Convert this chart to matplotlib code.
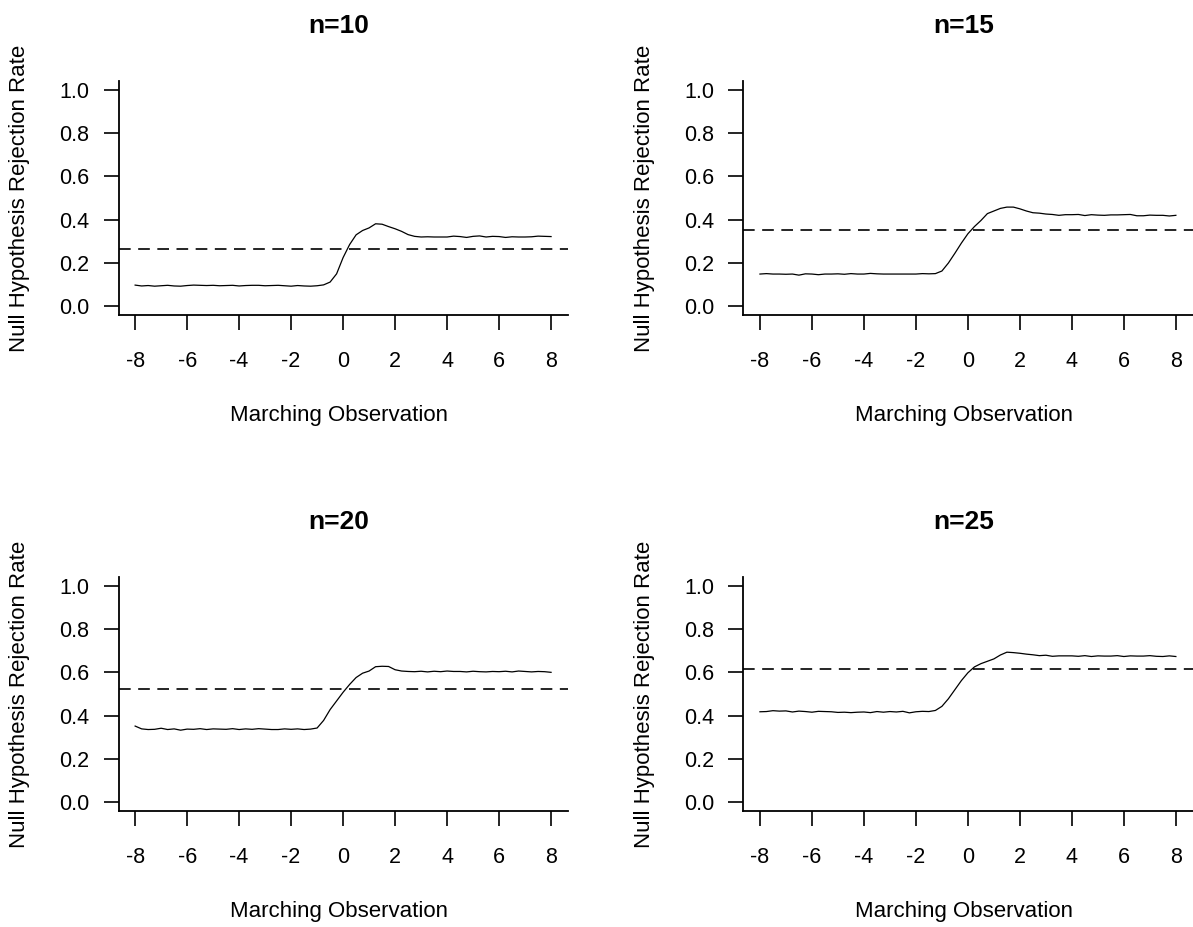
import numpy as np
import matplotlib
matplotlib.use("Agg")
import matplotlib.pyplot as plt

plt.rcParams['font.family'] = ['Liberation Sans', 'DejaVu Sans']
plt.rcParams['axes.unicode_minus'] = False

# ---- data ----
x_obs = np.arange(-8, 8.001, 0.25)

titles = ["n=10", "n=15", "n=20", "n=25"]

rate_n10 = [0.098, 0.094, 0.096, 0.093, 0.095, 0.097, 0.094, 0.093, 0.096, 0.098,
            0.097, 0.096, 0.097, 0.095, 0.096, 0.097, 0.094, 0.096, 0.097, 0.097,
            0.095, 0.096, 0.097, 0.095, 0.093, 0.096, 0.094, 0.093, 0.095, 0.099,
            0.112, 0.150,
            0.225,
            0.285, 0.330, 0.350, 0.362, 0.381, 0.379, 0.368, 0.358, 0.346, 0.331,
            0.323, 0.320, 0.321, 0.320, 0.320, 0.320, 0.324, 0.322, 0.318, 0.323,
            0.325, 0.320, 0.323, 0.322, 0.318, 0.321, 0.320, 0.320, 0.321, 0.324,
            0.323, 0.322]

rate_n15 = [0.149, 0.151, 0.149, 0.149, 0.148, 0.149, 0.144, 0.150, 0.149, 0.146,
            0.149, 0.149, 0.150, 0.148, 0.151, 0.149, 0.149, 0.152, 0.150, 0.149,
            0.149, 0.149, 0.149, 0.149, 0.149, 0.151, 0.150, 0.151, 0.163, 0.200,
            0.245, 0.292,
            0.335,
            0.368, 0.396, 0.428, 0.440, 0.452, 0.458, 0.458, 0.450, 0.440, 0.432,
            0.430, 0.426, 0.424, 0.420, 0.423, 0.423, 0.424, 0.419, 0.423, 0.421,
            0.420, 0.422, 0.422, 0.423, 0.424, 0.418, 0.418, 0.421, 0.420, 0.420,
            0.417, 0.420]

rate_n20 = [0.352, 0.339, 0.336, 0.337, 0.342, 0.336, 0.339, 0.333, 0.338, 0.337,
            0.340, 0.336, 0.339, 0.338, 0.337, 0.340, 0.336, 0.339, 0.337, 0.340,
            0.338, 0.336, 0.336, 0.339, 0.337, 0.339, 0.336, 0.338, 0.343, 0.378,
            0.428, 0.468,
            0.508,
            0.544, 0.576, 0.596, 0.606, 0.626, 0.628, 0.627, 0.612, 0.606, 0.604,
            0.603, 0.605, 0.602, 0.605, 0.603, 0.606, 0.604, 0.604, 0.602, 0.605,
            0.603, 0.602, 0.604, 0.603, 0.605, 0.602, 0.606, 0.604, 0.602, 0.604,
            0.603, 0.600]

rate_n25 = [0.418, 0.419, 0.423, 0.421, 0.422, 0.417, 0.421, 0.419, 0.416, 0.420,
            0.419, 0.418, 0.415, 0.416, 0.414, 0.416, 0.417, 0.414, 0.419, 0.416,
            0.419, 0.417, 0.420, 0.413, 0.418, 0.420, 0.419, 0.424, 0.443, 0.478,
            0.520, 0.562,
            0.598,
            0.625, 0.640, 0.651, 0.662, 0.680, 0.693, 0.691, 0.688, 0.684, 0.681,
            0.677, 0.679, 0.674, 0.676, 0.676, 0.676, 0.674, 0.677, 0.673, 0.676,
            0.675, 0.675, 0.677, 0.673, 0.676, 0.675, 0.675, 0.677, 0.674, 0.673,
            0.676, 0.673]

thresholds = [0.265, 0.354, 0.525, 0.616]

series = [rate_n10, rate_n15, rate_n20, rate_n25]
x_ticks = [-8, -6, -4, -2, 0, 2, 4, 6, 8]
y_ticks = [0.0, 0.2, 0.4, 0.6, 0.8, 1.0]

# ---- layout (pixels) ----
W, H = 1193, 927
fig = plt.figure(figsize=(W / 100, H / 100), dpi=100)

ax_w, ax_h = 449.2, 234.0
lefts = [118.5, 743.3]
tops = [81.0, 577.0]

def fx(px):
    return px / W

def fy(py):
    return 1 - py / H

for i, (vals, title, thr) in enumerate(zip(series, titles, thresholds)):
    r, c = divmod(i, 2)
    L, T = lefts[c], tops[r]
    ax = fig.add_axes([fx(L), fy(T + ax_h), ax_w / W, ax_h / H])
    ax.plot(x_obs, vals, color='black', lw=0.9)
    ax.axhline(thr, color='black', lw=1.2, linestyle=(0, (7, 4.5)))
    ax.set_xlim(-8.64, 8.64)
    ax.set_ylim(-0.04, 1.04)
    ax.set_xticks(x_ticks)
    ax.set_xticklabels([str(t) for t in x_ticks])
    ax.set_yticks(y_ticks)
    ax.set_yticklabels([f"{t:.1f}" for t in y_ticks])
    for s in ['top', 'right']:
        ax.spines[s].set_visible(False)
    for s in ['left', 'bottom']:
        ax.spines[s].set_linewidth(1.3)
        ax.spines[s].set_color('black')
    ax.tick_params(axis='both', direction='out', length=11, width=1.2,
                   labelsize=15.5, colors='black')
    ax.tick_params(axis='x', pad=15)
    ax.tick_params(axis='y', pad=10)

    cx = L + ax_w / 2 - 4
    fig.text(fx(cx), fy(T - 55), title, ha='center', va='center',
             fontsize=19, fontweight='bold')
    fig.text(fx(cx), fy(T + 334), "Marching Observation", ha='center',
             va='center', fontsize=16)
    fig.text(fx(L - 98.5), fy(T + ax_h / 2), "Null Hypothesis Rejection Rate",
             ha='center', va='center', rotation=90, fontsize=16)

fig.savefig("out.png", dpi=100)
